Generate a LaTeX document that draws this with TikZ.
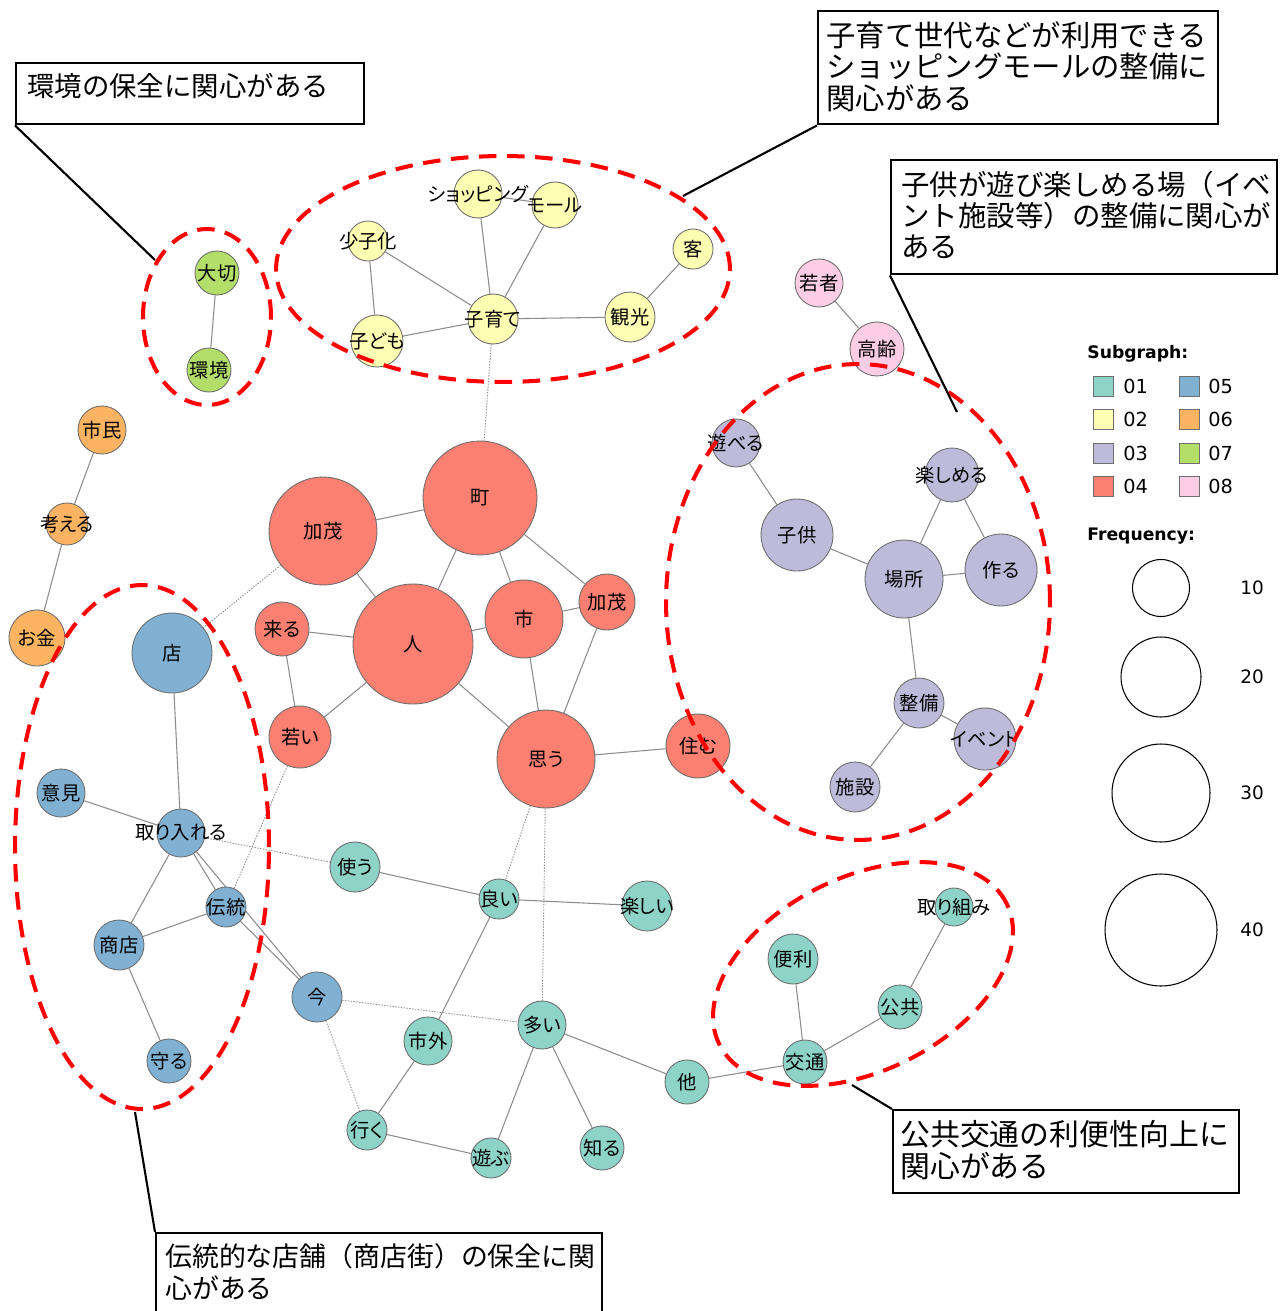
\documentclass[tikz,border=0pt]{standalone}
\usepackage{fontspec}
\newfontfamily\jfont{Noto Sans CJK JP}
\newfontfamily\jlabfont[RawFeature=+palt]{Noto Sans CJK JP}
\newfontfamily\legfont{DejaVu Sans}
\pgfdeclarelayer{bg}
\pgfsetlayers{bg,main}
\definecolor{c01}{HTML}{8DD3C7}
\definecolor{c02}{HTML}{FFFFB3}
\definecolor{c03}{HTML}{BEBADA}
\definecolor{c04}{HTML}{FB8072}
\definecolor{c05}{HTML}{80B1D3}
\definecolor{c06}{HTML}{FDB462}
\definecolor{c07}{HTML}{B3DE69}
\definecolor{c08}{HTML}{FCCDE5}
\definecolor{edgegray}{HTML}{8C8C8C}
\definecolor{bordergray}{HTML}{6E6E6E}
\tikzset{
  wn/.style={circle, draw=bordergray, line width=0.5pt, inner sep=0pt},
  lab/.style={font=\jlabfont\fontsize{11}{13}\selectfont, inner sep=0pt, text=black},
  ed/.style={draw=edgegray, line width=0.6pt},
  dotted edge/.style={draw=edgegray, line width=0.5pt, dash pattern=on 0.8pt off 0.8pt},
  grp/.style={draw=red, line width=2.3pt, dash pattern=on 10pt off 6pt},
  callbox/.style={draw=black, line width=1.4pt, inner sep=0pt, anchor=north west},
  callline/.style={draw=black, line width=1.2pt},
  calltext/.style={anchor=west, align=left, inner sep=0pt},
  sq/.style={rectangle, draw=bordergray, line width=0.5pt, minimum size=0.4cm, inner sep=0pt},
  legt/.style={anchor=west, inner sep=0pt, font=\legfont\fontsize{11}{13}\selectfont},
  legb/.style={anchor=west, inner sep=0pt, font=\legfont\bfseries\fontsize{9.8}{12}\selectfont},
  freqc/.style={circle, draw=black, line width=0.6pt, inner sep=0pt},
}
\newcommand\wn[6]{\node[wn, fill=#5, minimum size=#4*0.04cm, label={[lab]center:#6}] (#1) at (#2,#3) {};}
\begin{document}
\begin{tikzpicture}[x=0.02cm,y=-0.02cm]
\useasboundingbox (0,0) rectangle (1281,1311);

% yellow (02)
\wn{shop}{478}{194}{24}{c02}{ショッピング}
\wn{mall}{555}{205}{23}{c02}{モール}
\wn{kyaku}{693}{249}{20}{c02}{客}
\wn{kanko}{630}{317}{25}{c02}{観光}
\wn{kosodate}{493}{319}{25}{c02}{子育て}
\wn{shoshika}{368}{241}{20}{c02}{少子化}
\wn{kodomo}{377}{341}{26}{c02}{子ども}
% green (07)
\wn{taisetsu}{217}{273}{22}{c07}{大切}
\wn{kankyo}{209}{370}{22}{c07}{環境}
% orange (06)
\wn{shimin}{102}{430}{24}{c06}{市民}
\wn{kangaeru}{67}{524}{21}{c06}{考える}
\wn{okane}{37}{638}{28}{c06}{お金}
% blue (05)
\wn{mise}{172}{653}{40}{c05}{店}
\wn{iken}{61}{793}{24}{c05}{意見}
\wn{toriireru}{181}{833}{24}{c05}{取り入れる}
\wn{dento}{226}{907}{20}{c05}{伝統}
\wn{shoten}{119}{945}{25}{c05}{商店}
\wn{mamoru}{169}{1061}{22}{c05}{守る}
\wn{ima}{317}{997}{25}{c05}{今}
% red (04)
\wn{machi}{480}{498}{57}{c04}{町}
\wn{kamoA}{323}{531}{54}{c04}{加茂}
\wn{hito}{413}{644}{60}{c04}{人}
\wn{kuru}{282}{629}{27}{c04}{来る}
\wn{shi}{524}{619}{39}{c04}{市}
\wn{kamoB}{607}{602}{28}{c04}{加茂}
\wn{wakai}{300}{737}{31}{c04}{若い}
\wn{omou}{546}{759}{49}{c04}{思う}
\wn{sumu}{698}{746}{32}{c04}{住む}
% purple (03)
\wn{asoberu}{736}{443}{24}{c03}{遊べる}
\wn{tanoshimeru}{952}{475}{27}{c03}{楽しめる}
\wn{kodomoB}{797}{535}{36}{c03}{子供}
\wn{basho}{904}{579}{39}{c03}{場所}
\wn{tsukuru}{1001}{570}{36}{c03}{作る}
\wn{seibi}{919}{703}{25}{c03}{整備}
\wn{event}{985}{739}{31}{c03}{イベント}
\wn{shisetsu}{855}{787}{25}{c03}{施設}
% pink (08)
\wn{wakamono}{819}{283}{24}{c08}{若者}
\wn{korei}{877}{349}{27}{c08}{高齢}
% teal (01)
\wn{tsukau}{355}{867}{25}{c01}{使う}
\wn{yoi}{499}{899}{20}{c01}{良い}
\wn{tanoshii}{647}{906}{25}{c01}{楽しい}
\wn{shigai}{428}{1041}{24}{c01}{市外}
\wn{oi}{542}{1025}{24}{c01}{多い}
\wn{hoka}{687}{1082}{22}{c01}{他}
\wn{iku}{367}{1130}{20}{c01}{行く}
\wn{asobu}{491}{1158}{20}{c01}{遊ぶ}
\wn{shiru}{602}{1148}{22}{c01}{知る}
\wn{benri}{793}{959}{25}{c01}{便利}
\wn{kokyo}{900}{1007}{22}{c01}{公共}
\wn{kotsu}{805}{1062}{22}{c01}{交通}
\wn{torikumi}{954}{907}{19}{c01}{取り組み}

\begin{pgfonlayer}{bg}
\fill[white] (0,0) rectangle (1281,1311);
\draw[ed] (taisetsu) -- (kankyo);
\draw[ed] (shoshika) -- (kosodate);
\draw[ed] (shoshika) -- (kodomo);
\draw[ed] (kodomo) -- (kosodate);
\draw[ed] (shop) -- (kosodate);
\draw[ed] (shop) -- (mall);
\draw[ed] (mall) -- (kosodate);
\draw[ed] (kosodate) -- (kanko);
\draw[ed] (kanko) -- (kyaku);
\draw[dotted edge] (kosodate) -- (machi);
\draw[ed] (shimin) -- (kangaeru);
\draw[ed] (kangaeru) -- (okane);
\draw[dotted edge] (kamoA) -- (mise);
\draw[ed] (kamoA) -- (machi);
\draw[ed] (kamoA) -- (hito);
\draw[ed] (machi) -- (hito);
\draw[ed] (machi) -- (shi);
\draw[ed] (machi) -- (kamoB);
\draw[ed] (shi) -- (kamoB);
\draw[ed] (hito) -- (shi);
\draw[ed] (kuru) -- (hito);
\draw[ed] (kuru) -- (wakai);
\draw[ed] (wakai) -- (hito);
\draw[ed] (hito) -- (omou);
\draw[ed] (shi) -- (omou);
\draw[ed] (kamoB) -- (omou);
\draw[ed] (omou) -- (sumu);
\draw[dotted edge] (omou) -- (yoi);
\draw[dotted edge] (omou) -- (oi);
\draw[dotted edge] (wakai) -- (dento);
\draw[ed] (mise) -- (toriireru);
\draw[ed] (iken) -- (toriireru);
\draw[ed] (toriireru) -- (shoten);
\draw[ed] (toriireru) -- (dento);
\draw[ed] (toriireru) -- (ima);
\draw[ed] (dento) -- (ima);
\draw[ed] (shoten) -- (dento);
\draw[ed] (shoten) -- (mamoru);
\draw[dotted edge] (toriireru) -- (tsukau);
\draw[dotted edge] (ima) -- (oi);
\draw[dotted edge] (ima) -- (iku);
\draw[ed] (tsukau) -- (yoi);
\draw[ed] (yoi) -- (tanoshii);
\draw[ed] (yoi) -- (shigai);
\draw[ed] (shigai) -- (iku);
\draw[ed] (iku) -- (asobu);
\draw[ed] (oi) -- (asobu);
\draw[ed] (oi) -- (shiru);
\draw[ed] (oi) -- (hoka);
\draw[ed] (hoka) -- (kotsu);
\draw[ed] (kotsu) -- (benri);
\draw[ed] (kotsu) -- (kokyo);
\draw[ed] (kokyo) -- (torikumi);
\draw[ed] (wakamono) -- (korei);
\draw[ed] (asoberu) -- (kodomoB);
\draw[ed] (kodomoB) -- (basho);
\draw[ed] (basho) -- (tanoshimeru);
\draw[ed] (tanoshimeru) -- (tsukuru);
\draw[ed] (basho) -- (tsukuru);
\draw[ed] (basho) -- (seibi);
\draw[ed] (seibi) -- (event);
\draw[ed] (seibi) -- (shisetsu);
\end{pgfonlayer}

% group ellipses
\draw[grp] (207,317) ellipse [x radius=1.28cm, y radius=1.76cm];
\draw[grp] (503,269) ellipse [x radius=4.54cm, y radius=2.26cm];
\draw[grp] (858,602) ellipse [x radius=3.84cm, y radius=4.76cm];
\draw[grp] (142,847) ellipse [x radius=2.54cm, y radius=5.24cm];
\draw[grp, rotate around={26:(863,974)}] (863,974) ellipse [x radius=3.2cm, y radius=1.94cm];

% callouts
\node[callbox, minimum width=348*0.02cm, minimum height=61*0.02cm] (b1) at (15,62) {};
\node[calltext, font=\jfont\fontsize{15.6}{17.9}\selectfont] (t1) at (27,86) {環境の保全に関心がある};
\coordinate (p1) at (155,260);
\draw[callline] (b1.south west) -- (p1);

\node[callbox, minimum width=400*0.02cm, minimum height=113*0.02cm] (b2) at (817,10) {};
\node[calltext, font=\jfont\fontsize{16.7}{17.9}\selectfont] (t2) at (826,66.5) {子育て世代などが利用できる\\ショッピングモールの整備に\\関心がある};
\coordinate (p2) at (683,196);
\draw[callline] (b2.south west) -- (p2);

\node[callbox, minimum width=386*0.02cm, minimum height=114*0.02cm] (b3) at (890,159) {};
\node[calltext, font=\jfont\fontsize{16.2}{17.9}\selectfont] (t3) at (901,215) {子供が遊び楽しめる場（イベ\\ント施設等）の整備に関心が\\ある};
\coordinate (p3) at (957,412);
\draw[callline] (b3.south west) -- (p3);

\node[callbox, minimum width=346*0.02cm, minimum height=83*0.02cm] (b4) at (892,1109) {};
\node[calltext, font=\jfont\fontsize{17}{17.9}\selectfont] (t4) at (900,1150) {公共交通の利便性向上に\\関心がある};
\coordinate (p4) at (852,1085);
\draw[callline] (b4.north west) -- (p4);

\node[callbox, minimum width=446*0.02cm, minimum height=88*0.02cm] (b5) at (155,1232) {};
\node[calltext, font=\jfont\fontsize{15.3}{17.9}\selectfont] (t5) at (165,1272) {伝統的な店舗（商店街）の保全に関\\心がある};
\coordinate (p5) at (135,1112);
\draw[callline] (b5.north west) -- (p5);

% legend: subgraph
\node[legb] (subg) at (1087,354) {Subgraph:};
\node[sq, fill=c01] (s01) at (1103,386) {}; \node[legt] (l01) at (1123,386) {01};
\node[sq, fill=c02] (s02) at (1103,419) {}; \node[legt] (l02) at (1123,419) {02};
\node[sq, fill=c03] (s03) at (1103,453) {}; \node[legt] (l03) at (1123,453) {03};
\node[sq, fill=c04] (s04) at (1103,486) {}; \node[legt] (l04) at (1123,486) {04};
\node[sq, fill=c05] (s05) at (1189,386) {}; \node[legt] (l05) at (1208,386) {05};
\node[sq, fill=c06] (s06) at (1189,419) {}; \node[legt] (l06) at (1208,419) {06};
\node[sq, fill=c07] (s07) at (1189,453) {}; \node[legt] (l07) at (1208,453) {07};
\node[sq, fill=c08] (s08) at (1189,486) {}; \node[legt] (l08) at (1208,486) {08};

% legend: frequency
\node[legb] (freq) at (1087,536) {Frequency:};
\node[freqc, minimum size=57*0.02cm] (f10) at (1161,588) {};
\node[freqc, minimum size=80*0.02cm] (f20) at (1161,677) {};
\node[freqc, minimum size=98*0.02cm] (f30) at (1161,793) {};
\node[freqc, minimum size=112*0.02cm] (f40) at (1161,930) {};
\node[legt, font=\legfont\fontsize{10.5}{12}\selectfont] (n10) at (1240,588) {10};
\node[legt, font=\legfont\fontsize{10.5}{12}\selectfont] (n20) at (1240,677) {20};
\node[legt, font=\legfont\fontsize{10.5}{12}\selectfont] (n30) at (1240,793) {30};
\node[legt, font=\legfont\fontsize{10.5}{12}\selectfont] (n40) at (1240,930) {40};
\end{tikzpicture}
\end{document}
